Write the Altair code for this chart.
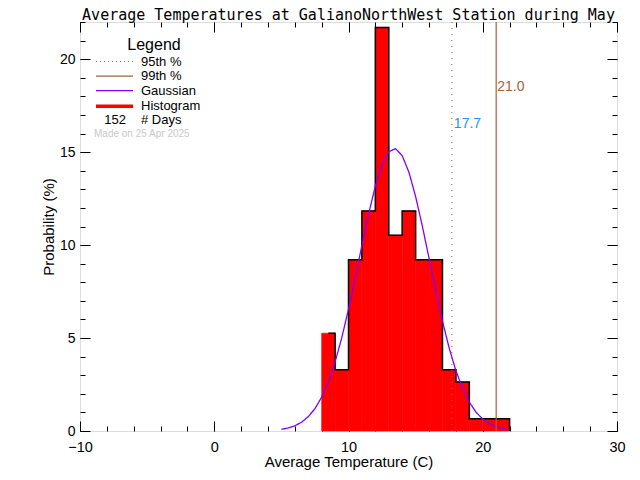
import altair as alt
import pandas as pd

# ---------------- data ----------------
bin_left = [8, 9, 10, 11, 12, 13, 14, 15, 16, 17, 18, 19, 20, 21]
bin_width = 1
hist_pct = [5.26, 3.29, 9.21, 11.84, 21.71, 10.53, 11.84, 9.21, 9.21, 3.29, 2.63, 0.66, 0.66, 0.66]

gauss_x = [5.0, 5.5, 6.0, 6.5, 7.0, 7.5, 8.0, 8.5, 9.0, 9.5, 10.0, 10.5, 11.0, 11.5,
           12.0, 12.5, 13.0, 13.5, 14.0, 14.5, 15.0, 15.5, 16.0, 16.5, 17.0, 17.5,
           18.0, 18.5, 19.0, 19.5, 20.0, 20.5, 21.0, 21.5, 22.0]
gauss_y = [0.09, 0.16, 0.28, 0.47, 0.77, 1.20, 1.82, 2.64, 3.71, 5.02, 6.55, 8.23,
           9.99, 11.68, 13.18, 14.33, 15.02, 15.19, 14.81, 13.92, 12.61, 11.02, 9.29,
           7.55, 5.91, 4.46, 3.25, 2.28, 1.55, 1.01, 0.64, 0.39, 0.23, 0.13, 0.07]

p95 = 17.7
p99 = 21.0
p95_label_y = 16.5
p99_label_y = 18.5
n_days = 152

x_domain = [-10, 30]
y_domain = [0, 22]
x_major = [-10, 0, 10, 20, 30]
x_minor = [-10, -8, -6, -4, -2, 0, 2, 4, 6, 8, 10, 12, 14, 16, 18, 20, 22, 24, 26, 28, 30]
y_major = [0, 5, 10, 15, 20]
y_minor = list(range(0, 23))

legend_labels = ["95th %", "99th %", "Gaussian", "Histogram"]
legend_colors = ["#1e90ff", "#a0643c", "#8000ff", "#ff0000"]
legend_dash = [[1, 3], [1, 0], [1, 0], [1, 0]]
legend_width = [1.2, 1.2, 1.3, 3.5]

F = "Liberation Sans"
TF = "DejaVu Sans Mono"
W, H = 537, 409
BROWN = "#a0643c"
BLUE = "#1e90ff"

# ---------------- tables ----------------
hist_df = pd.DataFrame({
    "x0": bin_left,
    "x1": [b + bin_width for b in bin_left],
    "pct": hist_pct,
})

# step outline (IDL psym=10 style: starts at first bin centre)
ox, oy = [], []
for i, (b, h) in enumerate(zip(bin_left, hist_pct)):
    start = b + bin_width / 2 if i == 0 else b
    ox += [start, b + bin_width]
    oy += [h, h]
ox.append(bin_left[-1] + bin_width)
oy.append(0)
outline_df = pd.DataFrame({"x": ox, "y": oy, "o": list(range(len(ox)))})

gauss_df = pd.DataFrame({"x": gauss_x, "y": gauss_y, "series": "Gaussian"})
p95_df = pd.DataFrame({"x": [p95], "y": [p95_label_y], "t": [f"{p95:.1f}"]})
p99_df = pd.DataFrame({"x": [p99], "y": [p99_label_y], "t": [f"{p99:.1f}"]})

xs = alt.Scale(domain=x_domain, nice=False, zero=False)
ys = alt.Scale(domain=y_domain, nice=False, zero=False)


def tick_axis(orient, values, size):
    return alt.Axis(orient=orient, values=values, tickSize=size, offset=-size,
                    labels=False, domain=False, title=None, grid=False,
                    ticks=True, tickColor="black", tickWidth=1)


# ---------------- layers ----------------
hist = alt.Chart(hist_df).mark_rect(color="#ff0000", stroke="#ff0000", strokeWidth=0.6).encode(
    x=alt.X("x0:Q", scale=xs, axis=alt.Axis(
        orient="bottom", values=x_major, ticks=False, tickSize=0, domain=False, grid=False,
        labelFont=F, labelFontSize=14.5, labelColor="black", labelPadding=9, format="d",
        labelFlush=False,
        title="Average Temperature (C)", titleFont=F, titleFontSize=15,
        titleFontWeight="normal", titleColor="black", titlePadding=1)),
    x2="x1:Q",
    y=alt.Y("pct:Q", scale=ys, axis=alt.Axis(
        orient="left", values=y_major, ticks=False, tickSize=0, domain=False, grid=False,
        labelFont=F, labelFontSize=14, labelColor="black", labelPadding=5, format="d",
        labelFlush=False,
        title="Probability (%)", titleFont=F, titleFontSize=15,
        titleFontWeight="normal", titleColor="black", titlePadding=3)),
    y2=alt.datum(0),
)

outline = alt.Chart(outline_df).mark_line(color="black", strokeWidth=1.5).encode(
    x=alt.X("x:Q", scale=xs, axis=tick_axis("bottom", x_major, 10)),
    y=alt.Y("y:Q", scale=ys, axis=tick_axis("left", y_major, 10)),
    order="o:Q",
)

leg = alt.Legend(
    title="Legend", orient="none", legendX=28, legendY=15,
    symbolType="M-37,0H37", symbolSize=1, labelOffset=20,
    labelFont=F, labelFontSize=13, labelColor="black",
    titleFont=F, titleFontSize=16, titleFontWeight="normal", titleColor="black",
    titleAnchor="middle", titlePadding=2, rowPadding=0.6, padding=0,
)

gauss = alt.Chart(gauss_df).mark_line().encode(
    x=alt.X("x:Q", scale=xs, axis=tick_axis("bottom", x_minor, 5)),
    y=alt.Y("y:Q", scale=ys, axis=tick_axis("left", y_minor, 5)),
    color=alt.Color("series:N", scale=alt.Scale(domain=legend_labels, range=legend_colors), legend=leg),
    strokeDash=alt.StrokeDash("series:N", scale=alt.Scale(domain=legend_labels, range=legend_dash), legend=leg),
    strokeWidth=alt.StrokeWidth("series:N", scale=alt.Scale(type="ordinal", domain=legend_labels, range=legend_width), legend=leg),
)

t95 = alt.Chart(p95_df).mark_text(align="left", baseline="middle", dx=2, font=F,
                                   fontSize=14, color=BLUE).encode(
    x=alt.X("x:Q", scale=xs, axis=tick_axis("top", x_major, 10)),
    y=alt.Y("y:Q", scale=ys, axis=tick_axis("right", y_major, 10)),
    text="t:N",
)
t99 = alt.Chart(p99_df).mark_text(align="left", baseline="middle", dx=1, font=F,
                                   fontSize=14, color=BROWN).encode(
    x=alt.X("x:Q", scale=xs, axis=None),
    y=alt.Y("y:Q", scale=ys, axis=tick_axis("right", y_minor, 5)),
    text="t:N",
)

r95 = alt.Chart(p95_df).mark_rule(color=BROWN, strokeWidth=1, strokeDash=[1, 5]).encode(
    x=alt.X("x:Q", scale=xs, axis=tick_axis("top", x_minor, 5)),
)
r99 = alt.Chart(p99_df).mark_rule(color=BROWN, strokeWidth=1.2).encode(
    x=alt.X("x:Q", scale=xs, axis=None),
)

days_n = alt.Chart(pd.DataFrame({"t": [str(n_days)]})).mark_text(
    align="right", baseline="middle", font=F, fontSize=13, color="black").encode(
    x=alt.value(46), y=alt.value(98), text="t:N")
days_l = alt.Chart(pd.DataFrame({"t": ["# Days"]})).mark_text(
    align="left", baseline="middle", font=F, fontSize=13, color="black").encode(
    x=alt.value(61), y=alt.value(98), text="t:N")
made = alt.Chart(pd.DataFrame({"t": ["Made on 25 Apr 2025"]})).mark_text(
    align="left", baseline="middle", font=F, fontSize=10, color="#c8c8c8").encode(
    x=alt.value(14), y=alt.value(112), text="t:N")

chart = alt.layer(
    hist, outline, gauss, t95, t99, r95, r99, days_n, days_l, made
).resolve_axis(
    x="independent", y="independent"
).properties(
    width=W, height=H,
    autosize="none",
    padding={"left": 72, "top": 14, "right": 15, "bottom": 41},
    title=alt.TitleParams(
        text="Average Temperatures at GalianoNorthWest Station during May",
        font=TF, fontSize=15, fontWeight="normal", color="black",
        anchor="middle", frame="group", offset=-1.5),
).configure_view(
    stroke="black", strokeWidth=1
).configure(background="white")

chart.save("out.html", embed_options={"renderer": "svg", "actions": False})
